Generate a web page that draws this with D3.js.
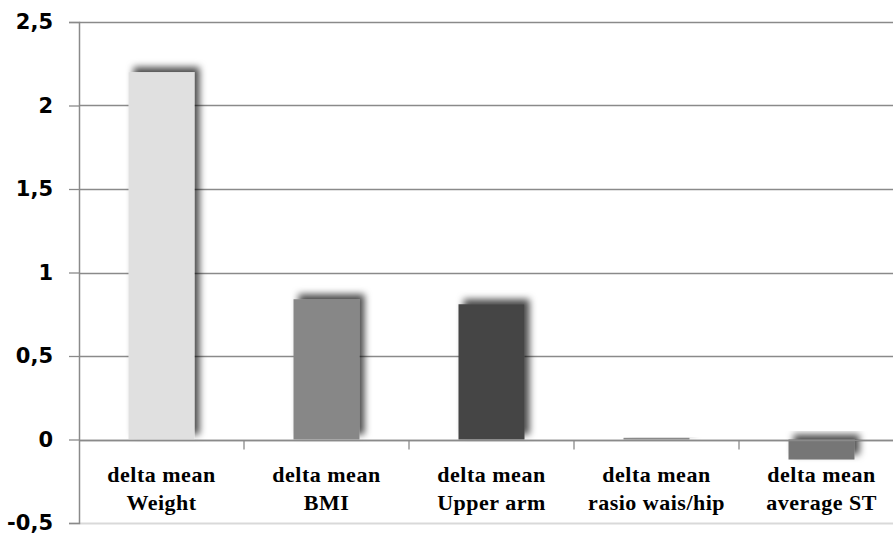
<!DOCTYPE html>
<html>
<head>
<meta charset="utf-8">
<script src="https://cdn.jsdelivr.net/npm/d3@7"></script>
<style>
  body { margin: 0; background: #fff; }
  svg { display: block; }
</style>
</head>
<body>
<div id="chart"></div>
<script>
// chart values
var categories = ["Weight", "BMI", "Upper arm", "rasio wais/hip", "average ST"];
var labelTop = "delta mean";
var values = [2.2, 0.84, 0.81, 0.01, -0.12];
var barColors = ["#e0e0e0", "#878787", "#454545", "#8a8a8a", "#767676"];
var yTicks = [-0.5, 0, 0.5, 1, 1.5, 2, 2.5];

var W = 893, H = 538;
var margin = {top: 22, right: -11, bottom: 15, left: 79};
var width = W - margin.left - margin.right;
var height = H - margin.top - margin.bottom;

var svg = d3.select("#chart").append("svg")
    .attr("width", W)
    .attr("height", H);

var defs = svg.append("defs");
var shadow = defs.append("filter")
    .attr("id", "shadow")
    .attr("x", "-40%").attr("y", "-40%")
    .attr("width", "180%").attr("height", "180%");
shadow.append("feDropShadow")
    .attr("dx", 5).attr("dy", -5)
    .attr("stdDeviation", 3.5)
    .attr("flood-color", "#000")
    .attr("flood-opacity", 0.7);

var g = svg.append("g")
    .attr("transform", "translate(" + margin.left + "," + margin.top + ")");

var x = d3.scaleBand()
    .domain(categories)
    .range([0, width])
    .paddingInner(0.6)
    .paddingOuter(0.3);

var xEdges = d3.scaleLinear().domain([0, categories.length]).range([0, width]);

var y = d3.scaleLinear()
    .domain([-0.5, 2.5])
    .range([height, 0]);

var fmt = function(d){ return String(d).replace(".", ","); };

// gridlines
g.append("g")
    .selectAll("line")
    .data(yTicks)
    .enter().append("line")
    .attr("x1", 0).attr("x2", width)
    .attr("y1", function(d){ return Math.round(y(d)) + 0.5; })
    .attr("y2", function(d){ return Math.round(y(d)) + 0.5; })
    .attr("stroke", function(d){ return d === -0.5 ? "#d9d9d9" : "#8a8a8a"; })
    .attr("stroke-width", function(d){ return d === -0.5 ? 2 : 1.3; });

// y axis
var yAxis = d3.axisLeft(y)
    .tickValues(yTicks)
    .tickFormat(fmt)
    .tickSize(10)
    .tickPadding(16);

var ya = g.append("g").attr("class", "y axis").call(yAxis);
ya.select(".domain").attr("stroke", "#8a8a8a").attr("stroke-width", 1.5);
ya.selectAll(".tick line").attr("stroke", "#8a8a8a").attr("stroke-width", 1.3);
ya.selectAll(".tick text")
    .style("font-family", "'DejaVu Sans', sans-serif")
    .style("font-weight", "bold")
    .style("font-size", "21px")
    .attr("fill", "#000");

// bars
g.selectAll("rect.bar")
    .data(values)
    .enter().append("rect")
    .attr("class", "bar")
    .attr("x", function(d, i){ return x(categories[i]); })
    .attr("width", x.bandwidth())
    .attr("y", function(d){ return y(Math.max(0, d)); })
    .attr("height", function(d){ return Math.max(1.5, Math.abs(y(d) - y(0))); })
    .attr("fill", function(d, i){ return barColors[i]; })
    .attr("filter", "url(#shadow)");

// x axis at zero
var zeroY = Math.round(y(0)) + 0.5;
g.append("line")
    .attr("x1", 0).attr("x2", width)
    .attr("y1", zeroY).attr("y2", zeroY)
    .attr("stroke", "#8a8a8a")
    .attr("stroke-width", 1.3);

g.selectAll("line.xtick")
    .data(d3.range(1, categories.length))
    .enter().append("line")
    .attr("class", "xtick")
    .attr("x1", function(d){ return xEdges(d); })
    .attr("x2", function(d){ return xEdges(d); })
    .attr("y1", zeroY).attr("y2", zeroY + 9)
    .attr("stroke", "#8a8a8a")
    .attr("stroke-width", 1.3);

// category labels
var labels = g.selectAll("text.cat")
    .data(categories)
    .enter().append("text")
    .attr("class", "cat")
    .attr("text-anchor", "middle")
    .style("font-family", "'Liberation Serif', 'Times New Roman', serif")
    .style("font-weight", "bold")
    .style("font-size", "22px")
    .style("letter-spacing", "0.5px")
    .attr("fill", "#000");

labels.append("tspan")
    .attr("x", function(d){ return x(d) + x.bandwidth() / 2; })
    .attr("y", zeroY + 41)
    .text(labelTop);

labels.append("tspan")
    .attr("x", function(d){ return x(d) + x.bandwidth() / 2; })
    .attr("y", zeroY + 69)
    .text(function(d){ return d; });
</script>
</body>
</html>
